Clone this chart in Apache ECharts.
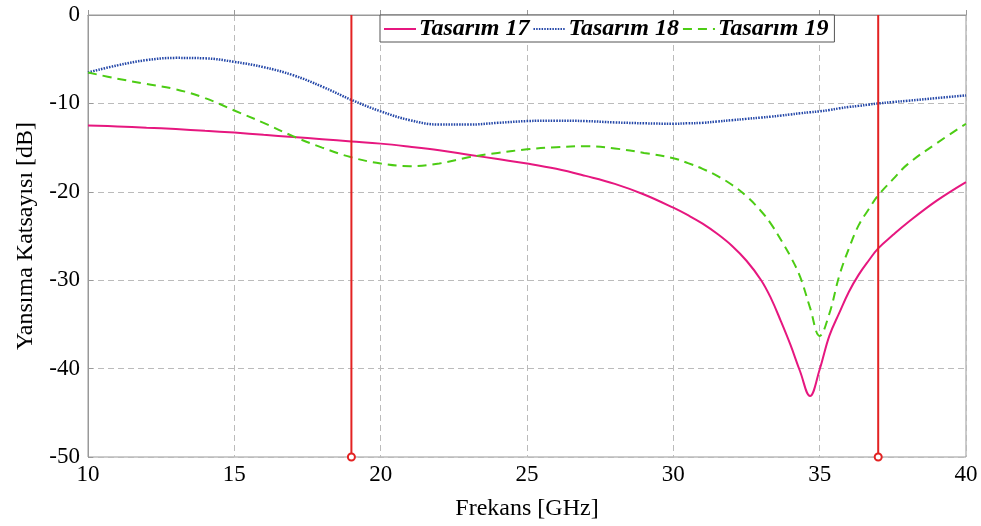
<!DOCTYPE html>
<html>
<head>
<meta charset="utf-8">
<script src="https://cdn.jsdelivr.net/npm/echarts@6/dist/echarts.min.js"></script>
<style>html,body{margin:0;padding:0;background:#fff}#c{width:981px;height:526px}</style>
</head>
<body>
<div id="c"></div>
<script>
const freq = [10,11,12,13,14,15,16,17,18,19,20,21,22,23,24,25,26,27,28,29,30,30.5,31,31.5,32,32.5,33,33.33,33.67,34,34.33,34.67,35,35.33,35.67,36,36.33,36.67,37,37.5,38,39,40];
const tasarim17 = [-12.5,-12.6,-12.75,-12.9,-13.1,-13.3,-13.55,-13.8,-14.05,-14.3,-14.55,-14.9,-15.3,-15.8,-16.3,-16.8,-17.4,-18.2,-19.1,-20.3,-21.8,-22.65,-23.6,-24.75,-26.1,-27.8,-30.0,-32.0,-34.6,-37.3,-40.3,-43.1,-40.1,-36.3,-33.7,-31.3,-29.4,-27.8,-26.4,-24.9,-23.5,-21.0,-18.9];
const tasarim18 = [-6.5,-5.7,-5.1,-4.85,-4.9,-5.3,-5.9,-6.8,-8.1,-9.6,-10.9,-11.9,-12.4,-12.4,-12.2,-12.0,-11.95,-12.0,-12.15,-12.25,-12.3,-12.25,-12.2,-12.05,-11.9,-11.75,-11.6,-11.5,-11.38,-11.25,-11.12,-11.0,-10.9,-10.75,-10.56,-10.4,-10.28,-10.14,-10.0,-9.85,-9.7,-9.4,-9.1];
const tasarim19 = [-6.5,-7.2,-7.8,-8.4,-9.4,-10.8,-12.2,-13.7,-15.0,-16.1,-16.8,-17.1,-16.8,-16.1,-15.6,-15.2,-14.95,-14.85,-15.1,-15.6,-16.2,-16.75,-17.4,-18.2,-19.2,-20.5,-22.2,-23.6,-25.4,-27.3,-29.6,-33.1,-36.3,-33.8,-29.5,-26.4,-23.8,-22.0,-20.4,-18.6,-16.9,-14.5,-12.3];
const seriesNames = ['Tasarım 17','Tasarım 18','Tasarım 19'];
const markerFreqs = [19, 37];
const xTicks = [10,15,20,25,30,35,40];
const yTicks = [0,-10,-20,-30,-40,-50];

const font = 'Liberation Serif';
const pair = (vals) => freq.map((f,i)=>[f, vals[i]]);
const yMin = Math.min(...yTicks), yMax = Math.max(...yTicks);

const markerSeries = markerFreqs.map(f => ({
  type:'line', silent:true, z:5,
  data:[{value:[f,yMin], symbol:'circle', symbolSize:7}, {value:[f,yMax], symbol:'none'}],
  showAllSymbol:true,
  lineStyle:{color:'#e32222', width:2},
  itemStyle:{color:'#fff', borderColor:'#e32222', borderWidth:2}
}));

const chart = echarts.init(document.getElementById('c'));
chart.setOption({
  animation:false,
  backgroundColor:'#fff',
  grid:{left:88, right:15, top:15, bottom:61, show:true, borderColor:'#999', borderWidth:1},
  legend:{
    data:seriesNames, left:380, top:15, padding:[2,6,1,3], itemGap:3,
    itemWidth:32, itemHeight:12, backgroundColor:'#fff', borderColor:'#555', borderWidth:1,
    itemStyle:{opacity:0},
    textStyle:{fontFamily:font, fontSize:24, fontWeight:'bold', fontStyle:'italic', color:'#000', padding:[0,0,0,-2]}
  },
  xAxis:{
    type:'value', min:10, max:40, interval:5,
    name:'Frekans [GHz]', nameLocation:'middle', nameGap:40,
    nameTextStyle:{fontFamily:font, fontSize:24, color:'#000'},
    axisLine:{show:true, lineStyle:{color:'#999'}},
    axisTick:{show:true, inside:true, length:5, lineStyle:{color:'#999'}},
    axisLabel:{fontFamily:font, fontSize:23, color:'#000', margin:6,
      formatter:(v)=> xTicks.includes(v) ? String(v) : ''},
    splitLine:{show:true, lineStyle:{color:'#bbb', type:[6,4], width:1}}
  },
  yAxis:{
    type:'value', min:-50, max:0, interval:10,
    name:'Yansıma Katsayısı [dB]', nameLocation:'middle', nameGap:50,
    nameTextStyle:{fontFamily:font, fontSize:24, color:'#000'},
    axisLine:{show:true, lineStyle:{color:'#999'}},
    axisTick:{show:true, inside:true, length:5, lineStyle:{color:'#999'}},
    axisLabel:{fontFamily:font, fontSize:23, color:'#000', margin:8,
      formatter:(v)=> yTicks.includes(v) ? String(v) : ''},
    splitLine:{show:true, lineStyle:{color:'#bbb', type:[6,4], width:1}}
  },
  series:[
    {name:seriesNames[0], type:'line', data:pair(tasarim17), symbol:'none', smooth:0.4,
     lineStyle:{color:'#e6177f', width:2}, itemStyle:{color:'#e6177f'}, z:3},
    {name:seriesNames[1], type:'line', data:pair(tasarim18), symbol:'none', smooth:0.4,
     lineStyle:{color:'#2447a8', width:2.5, type:[1.5,1.2]}, itemStyle:{color:'#2447a8'}, z:3},
    {name:seriesNames[2], type:'line', data:pair(tasarim19), symbol:'none', smooth:0.4,
     lineStyle:{color:'#4ccc14', width:2, type:[9,6]}, itemStyle:{color:'#4ccc14'}, z:3},
    ...markerSeries
  ]
});
</script>
</body>
</html>
